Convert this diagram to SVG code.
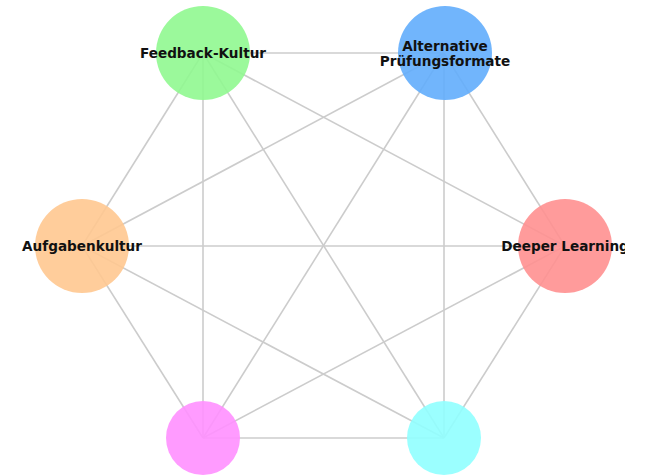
<svg xmlns="http://www.w3.org/2000/svg" width="645" height="476" viewBox="0 0 645 476">
<defs>
<style>
.e{stroke:#cccccc;stroke-width:1.6;fill:none}
.n{opacity:0.9}
.t{font-family:"DejaVu Sans",sans-serif;font-weight:bold;font-size:13.6px;fill:#111;text-anchor:middle}
</style>
<clipPath id="cut"><rect x="0" y="0" width="625" height="476"/></clipPath>
</defs>
<rect width="645" height="476" fill="#ffffff"/>
<g id="connectors">
<line class="e" x1="203" y1="53" x2="444" y2="53"/>
<line class="e" x1="203" y1="53" x2="565" y2="246"/>
<line class="e" x1="203" y1="53" x2="82" y2="246"/>
<line class="e" x1="203" y1="53" x2="203" y2="438"/>
<line class="e" x1="203" y1="53" x2="444" y2="438"/>
<line class="e" x1="444" y1="53" x2="565" y2="246"/>
<line class="e" x1="444" y1="53" x2="82" y2="246"/>
<line class="e" x1="444" y1="53" x2="203" y2="438"/>
<line class="e" x1="444" y1="53" x2="444" y2="438"/>
<line class="e" x1="565" y1="246" x2="82" y2="246"/>
<line class="e" x1="565" y1="246" x2="203" y2="438"/>
<line class="e" x1="565" y1="246" x2="444" y2="438"/>
<line class="e" x1="82" y1="246" x2="203" y2="438"/>
<line class="e" x1="82" y1="246" x2="444" y2="438"/>
<line class="e" x1="203" y1="438" x2="444" y2="438"/>
</g>
<g id="node-feedback">
<circle class="n" cx="203" cy="53" r="47" fill="#90f890"/>
<text class="t" x="203" y="58">Feedback-Kultur</text>
</g>
<g id="node-alternative">
<circle class="n" cx="445" cy="53" r="47" fill="#62adfc"/>
<text class="t" x="445" y="50.5">Alternative</text>
<text class="t" x="445" y="65.5">Prüfungsformate</text>
</g>
<g id="node-deeper">
<circle class="n" cx="565" cy="246" r="47" fill="#ff9090"/>
<text class="t" x="565" y="250.5" clip-path="url(#cut)">Deeper Learning</text>
</g>
<g id="node-aufgaben">
<circle class="n" cx="82" cy="246" r="47" fill="#ffc890"/>
<text class="t" x="82" y="250.5">Aufgabenkultur</text>
</g>
<g id="node-magenta">
<circle class="n" cx="203" cy="438" r="37" fill="#ff90ff"/>
</g>
<g id="node-cyan">
<circle class="n" cx="444" cy="438" r="37" fill="#90ffff"/>
</g>
</svg>
